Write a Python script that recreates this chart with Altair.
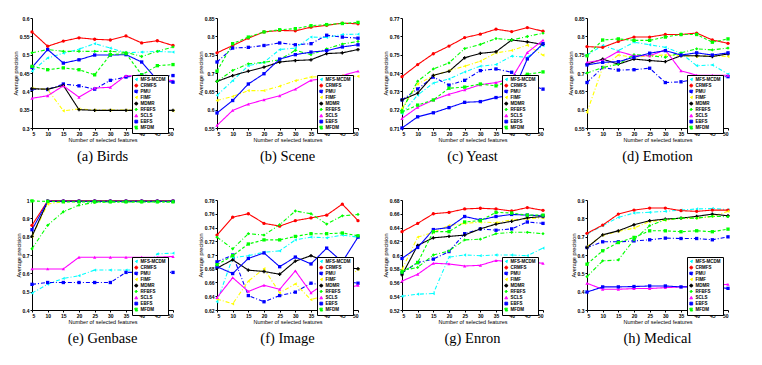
import altair as alt
import pandas as pd

X = [5, 10, 15, 20, 25, 30, 35, 40, 45, 50]
METHODS = ["MFS-MCDM", "CRMFS", "PMU", "FIMF", "MDMR", "RFBFS", "SCLS", "EBFS", "MFDM"]
COLORS = ["#00FFFF", "#FF0000", "#0000FF", "#FFFF00", "#000000", "#00FF00", "#FF00FF", "#0000FF", "#00FF00"]
DASHES = [[4, 2, 1, 2], [1, 0], [4, 2, 1, 2], [4, 2, 1, 2], [1, 0], [4, 2, 1, 2], [1, 0], [1, 0], [3, 2]]
SHAPES = ["triangle-left", "circle", "square", "triangle-left", "cross", "diamond", "triangle-up", "square", "square"]

BIRDS = {
    "MFS-MCDM": [0.455, 0.491, 0.504, 0.515, 0.530, 0.518, 0.505, 0.507, 0.509, 0.507],
    "CRMFS": [0.562, 0.523, 0.537, 0.546, 0.542, 0.540, 0.551, 0.532, 0.538, 0.525],
    "PMU": [0.406, 0.405, 0.420, 0.415, 0.406, 0.430, 0.439, 0.445, 0.440, 0.443],
    "FIMF": [0.409, 0.405, 0.347, 0.352, 0.349, 0.349, 0.349, 0.349, 0.348, 0.347],
    "MDMR": [0.407, 0.406, 0.416, 0.350, 0.348, 0.348, 0.348, 0.348, 0.348, 0.348],
    "RFBFS": [0.505, 0.514, 0.509, 0.509, 0.509, 0.509, 0.506, 0.495, 0.509, 0.521],
    "SCLS": [0.381, 0.388, 0.415, 0.384, 0.409, 0.411, 0.443, 0.440, 0.435, 0.429],
    "EBFS": [0.465, 0.514, 0.477, 0.486, 0.499, 0.499, 0.500, 0.480, 0.430, 0.425],
    "MFDM": [0.468, 0.459, 0.464, 0.459, 0.445, 0.500, 0.503, 0.445, 0.470, 0.473],
}
SCENE = {
    "MFS-MCDM": [0.639, 0.679, 0.720, 0.729, 0.764, 0.768, 0.798, 0.797, 0.805, 0.806],
    "CRMFS": [0.755, 0.775, 0.795, 0.812, 0.816, 0.815, 0.825, 0.830, 0.836, 0.834],
    "PMU": [0.730, 0.768, 0.770, 0.775, 0.782, 0.777, 0.780, 0.803, 0.798, 0.795],
    "FIMF": [0.625, 0.636, 0.652, 0.652, 0.664, 0.679, 0.689, 0.691, 0.693, 0.691],
    "MDMR": [0.677, 0.693, 0.705, 0.716, 0.730, 0.734, 0.736, 0.753, 0.755, 0.764],
    "RFBFS": [0.677, 0.707, 0.725, 0.729, 0.736, 0.762, 0.750, 0.766, 0.779, 0.786],
    "SCLS": [0.557, 0.598, 0.615, 0.627, 0.638, 0.656, 0.680, 0.686, 0.693, 0.705],
    "EBFS": [0.591, 0.625, 0.670, 0.698, 0.738, 0.750, 0.757, 0.761, 0.771, 0.777],
    "MFDM": [0.705, 0.780, 0.798, 0.812, 0.818, 0.821, 0.829, 0.832, 0.835, 0.838],
}
YEAST = {
    "MFS-MCDM": [0.7179, 0.7280, 0.7345, 0.7367, 0.7406, 0.7437, 0.7446, 0.7492, 0.7486, 0.7550],
    "CRMFS": [0.7380, 0.7446, 0.7505, 0.7547, 0.7593, 0.7612, 0.7639, 0.7626, 0.7648, 0.7628],
    "PMU": [0.7253, 0.7313, 0.7378, 0.7334, 0.7360, 0.7413, 0.7422, 0.7404, 0.7340, 0.7312],
    "FIMF": [0.7207, 0.7340, 0.7385, 0.7413, 0.7437, 0.7464, 0.7510, 0.7523, 0.7552, 0.7497],
    "MDMR": [0.7253, 0.7290, 0.7387, 0.7409, 0.7483, 0.7507, 0.7516, 0.7580, 0.7570, 0.7556],
    "RFBFS": [0.7198, 0.7355, 0.7422, 0.7455, 0.7533, 0.7556, 0.7588, 0.7580, 0.7599, 0.7617],
    "SCLS": [0.7152, 0.7213, 0.7253, 0.7284, 0.7308, 0.7336, 0.7348, 0.7370, 0.7512, 0.7579],
    "EBFS": [0.7100, 0.7161, 0.7183, 0.7211, 0.7240, 0.7244, 0.7266, 0.7278, 0.7477, 0.7560],
    "MFDM": [0.7188, 0.7225, 0.7253, 0.7317, 0.7323, 0.7340, 0.7330, 0.7360, 0.7393, 0.7406],
}
EMOTION = {
    "MFS-MCDM": [0.749, 0.775, 0.761, 0.784, 0.777, 0.770, 0.754, 0.720, 0.722, 0.697],
    "CRMFS": [0.772, 0.770, 0.786, 0.798, 0.798, 0.805, 0.805, 0.809, 0.790, 0.781],
    "PMU": [0.674, 0.715, 0.708, 0.709, 0.713, 0.674, 0.676, 0.683, 0.690, 0.690],
    "FIMF": [0.593, 0.715, 0.749, 0.743, 0.747, 0.749, 0.747, 0.745, 0.747, 0.745],
    "MDMR": [0.724, 0.738, 0.724, 0.738, 0.734, 0.731, 0.747, 0.747, 0.745, 0.752],
    "RFBFS": [0.700, 0.715, 0.724, 0.750, 0.747, 0.743, 0.755, 0.766, 0.763, 0.768],
    "SCLS": [0.729, 0.735, 0.759, 0.747, 0.747, 0.763, 0.706, 0.694, 0.694, 0.694],
    "EBFS": [0.722, 0.729, 0.731, 0.743, 0.754, 0.761, 0.749, 0.755, 0.749, 0.755],
    "MFDM": [0.747, 0.790, 0.793, 0.789, 0.789, 0.798, 0.805, 0.805, 0.784, 0.793],
}
GENBASE = {
    "MFS-MCDM": [0.492, 0.541, 0.572, 0.587, 0.618, 0.618, 0.618, 0.618, 0.706, 0.710],
    "CRMFS": [0.862, 0.995, 0.995, 0.995, 0.995, 0.995, 0.995, 0.995, 0.995, 0.995],
    "PMU": [0.540, 0.550, 0.550, 0.550, 0.550, 0.550, 0.605, 0.605, 0.605, 0.605],
    "FIMF": [0.800, 0.978, 0.990, 0.992, 0.993, 0.993, 0.993, 0.993, 0.993, 0.993],
    "MDMR": [0.802, 0.992, 0.993, 0.993, 0.993, 0.993, 0.993, 0.993, 0.993, 0.993],
    "RFBFS": [0.734, 0.862, 0.936, 0.972, 0.987, 0.990, 0.990, 0.990, 0.990, 0.990],
    "SCLS": [0.624, 0.624, 0.624, 0.688, 0.688, 0.688, 0.688, 0.688, 0.688, 0.692],
    "EBFS": [0.838, 0.993, 0.993, 0.993, 0.993, 0.993, 0.993, 0.993, 0.993, 0.993],
    "MFDM": [0.995, 0.992, 0.990, 0.990, 0.990, 0.990, 0.990, 0.990, 0.990, 0.990],
}
IMAGE = {
    "MFS-MCDM": [0.632, 0.696, 0.699, 0.704, 0.706, 0.722, 0.726, 0.725, 0.729, 0.726],
    "CRMFS": [0.729, 0.755, 0.760, 0.746, 0.742, 0.750, 0.754, 0.758, 0.774, 0.750],
    "PMU": [0.690, 0.700, 0.641, 0.632, 0.641, 0.646, 0.659, 0.655, 0.662, 0.659],
    "FIMF": [0.636, 0.629, 0.662, 0.680, 0.645, 0.658, 0.635, 0.642, 0.660, 0.679],
    "MDMR": [0.681, 0.693, 0.678, 0.676, 0.672, 0.691, 0.699, 0.690, 0.682, 0.680],
    "RFBFS": [0.726, 0.709, 0.731, 0.729, 0.744, 0.764, 0.760, 0.745, 0.757, 0.759],
    "SCLS": [0.638, 0.667, 0.647, 0.656, 0.650, 0.677, 0.645, 0.660, 0.650, 0.656],
    "EBFS": [0.683, 0.673, 0.695, 0.703, 0.683, 0.697, 0.687, 0.710, 0.690, 0.726],
    "MFDM": [0.686, 0.699, 0.716, 0.722, 0.722, 0.727, 0.731, 0.731, 0.732, 0.728],
}
ENRON = {
    "MFS-MCDM": [0.540, 0.543, 0.544, 0.597, 0.600, 0.599, 0.600, 0.600, 0.599, 0.610],
    "CRMFS": [0.634, 0.646, 0.660, 0.662, 0.667, 0.668, 0.667, 0.664, 0.669, 0.665],
    "PMU": [0.574, 0.589, 0.594, 0.605, 0.631, 0.638, 0.636, 0.638, 0.648, 0.646],
    "FIMF": [0.579, 0.626, 0.633, 0.643, 0.646, 0.648, 0.647, 0.651, 0.653, 0.654],
    "MDMR": [0.571, 0.614, 0.625, 0.627, 0.629, 0.638, 0.645, 0.649, 0.654, 0.656],
    "RFBFS": [0.577, 0.582, 0.600, 0.606, 0.622, 0.623, 0.631, 0.633, 0.633, 0.631],
    "SCLS": [0.562, 0.572, 0.588, 0.587, 0.584, 0.585, 0.592, 0.590, 0.590, 0.588],
    "EBFS": [0.595, 0.611, 0.637, 0.640, 0.656, 0.651, 0.656, 0.659, 0.658, 0.657],
    "MFDM": [0.575, 0.589, 0.634, 0.634, 0.648, 0.650, 0.662, 0.661, 0.658, 0.658],
}
MEDICAL = {
    "MFS-MCDM": [0.714, 0.760, 0.805, 0.829, 0.833, 0.838, 0.845, 0.851, 0.854, 0.847],
    "CRMFS": [0.718, 0.763, 0.823, 0.845, 0.856, 0.856, 0.842, 0.838, 0.845, 0.845],
    "PMU": [0.641, 0.672, 0.672, 0.677, 0.683, 0.692, 0.690, 0.690, 0.683, 0.699],
    "FIMF": [0.645, 0.708, 0.729, 0.747, 0.783, 0.790, 0.801, 0.801, 0.811, 0.838],
    "MDMR": [0.641, 0.710, 0.732, 0.765, 0.787, 0.796, 0.801, 0.811, 0.823, 0.814],
    "RFBFS": [0.482, 0.568, 0.573, 0.683, 0.760, 0.792, 0.801, 0.801, 0.811, 0.809],
    "SCLS": [0.446, 0.413, 0.413, 0.417, 0.417, 0.422, 0.426, 0.430, 0.435, 0.440],
    "EBFS": [0.398, 0.426, 0.426, 0.428, 0.431, 0.431, 0.426, 0.426, 0.425, 0.418],
    "MFDM": [0.550, 0.623, 0.668, 0.696, 0.732, 0.732, 0.727, 0.732, 0.727, 0.741],
}

# (caption, data, y-min, y-max, y-step)
PANELS = [("(a)  Birds", BIRDS, 0.3, 0.6, 0.05),
          ("(b)  Scene", SCENE, 0.55, 0.85, 0.05),
          ("(c)  Yeast", YEAST, 0.71, 0.77, 0.01),
          ("(d)  Emotion", EMOTION, 0.55, 0.85, 0.05),
          ("(e)  Genbase", GENBASE, 0.4, 1.0, 0.1),
          ("(f)  Image", IMAGE, 0.62, 0.78, 0.02),
          ("(g)  Enron", ENRON, 0.52, 0.68, 0.02),
          ("(h)  Medical", MEDICAL, 0.3, 0.9, 0.1)]


def panel(caption, data, lo, hi, step):
    rows = []
    for m in METHODS:
        for xv, yv in zip(X, data[m]):
            rows.append({"x": xv, "y": yv, "method": m})
    df = pd.DataFrame(rows)
    n = int(round((hi - lo) / step))
    ticks = [round(lo + i * step, 4) for i in range(n + 1)]
    xenc = alt.X("x:Q", scale=alt.Scale(domain=[5, 50], nice=False),
                 axis=alt.Axis(values=X, title="Number of selected features", format="d"))
    yenc = alt.Y("y:Q", scale=alt.Scale(domain=[lo, hi], nice=False, zero=False),
                 axis=alt.Axis(values=ticks, format=".2~f", title="Average precision"))
    leg = alt.Legend(title=None)
    color = alt.Color("method:N", scale=alt.Scale(domain=METHODS, range=COLORS), legend=leg)
    base = alt.Chart(df).encode(x=xenc, y=yenc, color=color)
    lines = base.mark_line(strokeWidth=1.1).encode(
        strokeDash=alt.StrokeDash("method:N", scale=alt.Scale(domain=METHODS, range=DASHES), legend=leg))
    pts = base.mark_point(filled=True, size=11, opacity=1).encode(
        shape=alt.Shape("method:N", scale=alt.Scale(domain=METHODS, range=SHAPES), legend=leg))
    return alt.layer(lines, pts).properties(
        width=141, height=110,
        title=alt.TitleParams(caption, orient="bottom", font="Liberation Serif", fontSize=14.5,
                              fontWeight="normal", offset=7, anchor="middle"))


chart = alt.concat(*[panel(*p) for p in PANELS], columns=4,
                   spacing={"row": 72, "column": 44}, bounds="flush").resolve_legend(
    color="independent", shape="independent", strokeDash="independent"
).resolve_scale(y="independent", color="independent", shape="independent",
                strokeDash="independent").properties(
    padding={"left": 5, "top": 8, "right": 5, "bottom": 5}
).configure_view(stroke=None).configure_axis(
    domainColor="black", tickColor="black", tickSize=2, grid=False,
    labelFont="Liberation Sans", labelFontSize=5, labelFontWeight="bold", labelColor="black",
    labelPadding=1, titleFont="Liberation Sans", titleFontSize=5.5, titleFontWeight="normal",
    titleColor="black", titlePadding=1
).configure_legend(
    orient="none", legendX=100, legendY=57, fillColor="white", strokeColor="black",
    padding=2, labelFont="Liberation Sans", labelFontSize=4.5, labelFontWeight="bold",
    labelColor="black", symbolSize=8, rowPadding=-3.3, symbolStrokeWidth=1,
    labelOffset=2, symbolOffset=0, clipHeight=5.2
).configure_title(color="black")

chart.save("out.html", embed_options={"renderer": "svg", "actions": False})
